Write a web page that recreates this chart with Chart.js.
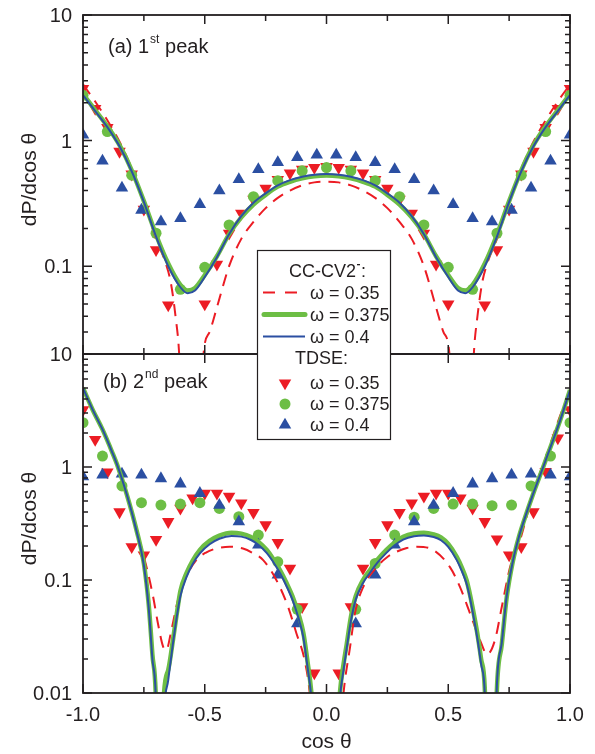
<!DOCTYPE html>
<html>
<head>
<meta charset="utf-8">
<title>dP/dcos theta - 1st and 2nd peak</title>
<script src="https://cdn.jsdelivr.net/npm/chart.js@4.4.1/dist/chart.umd.min.js"></script>
<style>
    html, body { margin: 0; padding: 0; background: #fff; }
    #wrap { position: relative; width: 595px; height: 754px; }
    #wrap canvas { position: absolute; left: 0; top: 0; }
</style>
</head>
<body>
<div id="wrap">
    <canvas id="chartA" width="595" height="754"></canvas>
    <canvas id="chartB" width="595" height="754"></canvas>
</div>
<script>
const INK = '#231F20';
const RED = '#EC1C24';
const GREEN = '#6DBE45';
const BLUE = '#2B4FA2';
const FONT = '"Liberation Sans", Arial, Helvetica, sans-serif';

// axes
const xTickValues = [-1, -0.5, 0, 0.5, 1];
const xTickLabels = ['-1.0', '-0.5', '0.0', '0.5', '1.0'];
const xMinorTicks = [-0.75, -0.25, 0.25, 0.75];
const yTicksA = [0.1, 1, 10];
const yLabelsA = ['0.1', '1', '10'];
const yTicksB = [0.01, 0.1, 1, 10];
const yLabelsB = ['0.01', '0.1', '1', '10'];

// ---- panel (a) 1st peak ----
// CC-CV2 curves, omega = 0.375 / 0.4
const aLineX = [-1, -0.95, -0.9, -0.85, -0.8, -0.75, -0.7, -0.65, -0.6, -0.57, -0.54, -0.5, -0.45, -0.4, -0.35, -0.3, -0.25, -0.2, -0.15, -0.1, -0.05, 0,
    0.05, 0.1, 0.15, 0.2, 0.25, 0.3, 0.35, 0.4, 0.45, 0.5, 0.54, 0.57, 0.6, 0.65, 0.7, 0.75, 0.8, 0.85, 0.9, 0.95, 1];
const aLine0375 = [2.35, 1.75, 1.3, 0.92, 0.58, 0.33, 0.178, 0.105, 0.071, 0.064, 0.067, 0.085, 0.12, 0.18, 0.245, 0.31, 0.37, 0.43, 0.47, 0.5, 0.52, 0.527,
    0.52, 0.5, 0.47, 0.43, 0.37, 0.31, 0.245, 0.18, 0.12, 0.085, 0.067, 0.064, 0.071, 0.105, 0.178, 0.33, 0.58, 0.92, 1.3, 1.75, 2.35];
const aLine04 = [2.3, 1.72, 1.28, 0.9, 0.57, 0.325, 0.172, 0.1, 0.068, 0.061, 0.064, 0.082, 0.118, 0.18, 0.25, 0.32, 0.38, 0.44, 0.485, 0.515, 0.535, 0.542,
    0.535, 0.515, 0.485, 0.44, 0.38, 0.32, 0.25, 0.18, 0.118, 0.082, 0.064, 0.061, 0.068, 0.1, 0.172, 0.325, 0.57, 0.9, 1.28, 1.72, 2.3];
// CC-CV2 curve, omega = 0.35 (dashed)
const aDashX = [-1, -0.95, -0.9, -0.85, -0.8, -0.75, -0.7, -0.66, -0.64, -0.62, -0.605, -0.555, -0.505, -0.48, -0.45, -0.4, -0.35, -0.3, -0.25, -0.2, -0.15, -0.1, -0.05, 0,
    0.05, 0.1, 0.15, 0.2, 0.25, 0.3, 0.35, 0.4, 0.45, 0.48, 0.505, 0.555, 0.605, 0.62, 0.64, 0.66, 0.7, 0.75, 0.8, 0.85, 0.9, 0.95, 1];
const aDash035 = [2.8, 2.05, 1.45, 0.98, 0.6, 0.33, 0.165, 0.105, 0.075, 0.04, 0.02, 0.0001, 0.02, 0.03, 0.047, 0.1, 0.165, 0.225, 0.29, 0.35, 0.4, 0.44, 0.465, 0.47,
    0.465, 0.44, 0.4, 0.35, 0.29, 0.225, 0.165, 0.1, 0.047, 0.03, 0.02, 0.0001, 0.02, 0.04, 0.075, 0.105, 0.165, 0.33, 0.6, 0.98, 1.45, 2.05, 2.8];
// TDSE points
const aRedX = [-1, -0.95, -0.9, -0.85, -0.8, -0.75, -0.7, -0.65, -0.5, -0.45, -0.4, -0.35, -0.3, -0.25, -0.2, -0.15, -0.1, -0.05, 0,
    0.05, 0.1, 0.15, 0.2, 0.25, 0.3, 0.35, 0.4, 0.45, 0.5, 0.65, 0.7, 0.75, 0.8, 0.85, 0.9, 0.95, 1];
const aRed = [2.6, 1.8, 1.27, 0.82, 0.54, 0.284, 0.135, 0.049, 0.05, 0.1035, 0.183, 0.264, 0.34, 0.417, 0.49, 0.55, 0.59, 0.61, 0.62,
    0.61, 0.59, 0.55, 0.49, 0.417, 0.34, 0.264, 0.183, 0.1035, 0.05, 0.049, 0.135, 0.284, 0.54, 0.82, 1.27, 1.8, 2.6];
const aGreenX = [-1, -0.9, -0.8, -0.7, -0.6, -0.5, -0.4, -0.3, -0.2, -0.1, 0, 0.1, 0.2, 0.3, 0.4, 0.5, 0.6, 0.7, 0.8, 0.9, 1];
const aGreen = [2.3, 1.18, 0.53, 0.183, 0.0655, 0.098, 0.213, 0.358, 0.48, 0.575, 0.61, 0.575, 0.48, 0.358, 0.213, 0.098, 0.0655, 0.183, 0.53, 1.18, 2.3];
const aBlueX = [-1, -0.92, -0.84, -0.76, -0.68, -0.6, -0.52, -0.44, -0.36, -0.28, -0.2, -0.12, -0.04,
    0.04, 0.12, 0.2, 0.28, 0.36, 0.44, 0.52, 0.6, 0.68, 0.76, 0.84, 0.92, 1];
const aBlue = [1.11, 0.69, 0.42, 0.28, 0.226, 0.24, 0.31, 0.4, 0.49, 0.59, 0.67, 0.735, 0.77,
    0.77, 0.735, 0.67, 0.59, 0.49, 0.4, 0.31, 0.24, 0.226, 0.28, 0.42, 0.69, 1.11];

// ---- panel (b) 2nd peak ----
const bLineX = [-1, -0.96, -0.92, -0.88, -0.86, -0.82, -0.78, -0.75, -0.73, -0.715, -0.7, -0.685, -0.67, -0.65, -0.63, -0.615, -0.6, -0.575, -0.55, -0.52,
    -0.48, -0.44, -0.39, -0.35, -0.31, -0.28, -0.245, -0.22, -0.19, -0.165, -0.14, -0.115, -0.095, -0.078, -0.062, 0,
    0.055, 0.07, 0.083, 0.1, 0.12, 0.15, 0.18, 0.21, 0.245, 0.28, 0.315, 0.36, 0.4, 0.44, 0.47, 0.5, 0.535, 0.555, 0.575, 0.59,
    0.605, 0.62, 0.635, 0.65, 0.675, 0.7, 0.72, 0.74, 0.765, 0.79, 0.81, 0.85, 0.89, 0.93, 0.96, 1];
const bLine0375 = [5.0, 3.2, 2.15, 1.35, 1.05, 0.57, 0.275, 0.14, 0.06, 0.022, 0.008, 0.0001, 0.008, 0.016, 0.03, 0.05, 0.08, 0.115, 0.148, 0.185,
    0.222, 0.247, 0.262, 0.257, 0.24, 0.218, 0.184, 0.155, 0.121, 0.095, 0.072, 0.05, 0.034, 0.019, 0.01, 0.0001,
    0.01, 0.018, 0.027, 0.047, 0.072, 0.1, 0.124, 0.152, 0.184, 0.215, 0.241, 0.258, 0.262, 0.253, 0.238, 0.208, 0.16, 0.13, 0.1, 0.073,
    0.05, 0.033, 0.02, 0.011, 0.0001, 0.011, 0.027, 0.07, 0.145, 0.24, 0.33, 0.59, 1.0, 1.72, 2.6, 4.8];
const bLine04 = [5.0, 3.2, 2.15, 1.35, 1.05, 0.57, 0.27, 0.135, 0.056, 0.02, 0.008, 0.0001, 0.005, 0.013, 0.028, 0.047, 0.072, 0.106, 0.138, 0.172,
    0.207, 0.232, 0.245, 0.242, 0.226, 0.205, 0.173, 0.146, 0.114, 0.089, 0.067, 0.046, 0.031, 0.017, 0.009, 0.0001,
    0.009, 0.016, 0.025, 0.043, 0.067, 0.094, 0.117, 0.143, 0.173, 0.203, 0.228, 0.244, 0.248, 0.24, 0.225, 0.196, 0.15, 0.121, 0.093, 0.068,
    0.046, 0.03, 0.018, 0.01, 0.0001, 0.012, 0.028, 0.072, 0.145, 0.24, 0.33, 0.59, 1.0, 1.72, 2.6, 4.8];
const bDashX = [-1, -0.95, -0.9, -0.863, -0.822, -0.79, -0.761, -0.733, -0.712, -0.692, -0.671, -0.658, -0.637, -0.61, -0.576, -0.535, -0.495, -0.453,
    -0.398, -0.343, -0.3, -0.26, -0.206, -0.158, -0.124, -0.09, -0.069, 0,
    0.07, 0.097, 0.117, 0.151, 0.206, 0.25, 0.288, 0.33, 0.37, 0.439, 0.507, 0.548, 0.589, 0.63, 0.66, 0.692, 0.72, 0.754, 0.795, 0.83, 0.87, 0.9, 0.95, 1];
const bDash035 = [4.9, 2.9, 1.75, 1.1, 0.6, 0.33, 0.197, 0.115, 0.071, 0.041, 0.0257, 0.024, 0.036, 0.0665, 0.107, 0.15, 0.175, 0.19,
    0.197, 0.19, 0.172, 0.15, 0.1, 0.058, 0.034, 0.0196, 0.01, 0.0001,
    0.01, 0.0257, 0.051, 0.087, 0.13, 0.16, 0.178, 0.192, 0.197, 0.184, 0.13, 0.087, 0.051, 0.0295, 0.022, 0.0295, 0.058, 0.13, 0.226, 0.42, 0.8, 1.2, 2.5, 4.7];
const bRedX = [-1, -0.95, -0.9, -0.85, -0.8, -0.75, -0.7, -0.65, -0.6, -0.55, -0.5, -0.45, -0.4, -0.35, -0.3, -0.25, -0.2, -0.15, -0.1, -0.05,
    0.05, 0.1, 0.15, 0.2, 0.25, 0.3, 0.35, 0.4, 0.45, 0.5, 0.55, 0.6, 0.65, 0.7, 0.75, 0.8, 0.85, 0.9, 0.95, 1];
const bRed = [3.2, 1.75, 0.9, 0.4, 0.197, 0.166, 0.228, 0.328, 0.43, 0.53, 0.585, 0.585, 0.55, 0.48, 0.395, 0.307, 0.214, 0.127, 0.058, 0.015,
    0.015, 0.058, 0.127, 0.214, 0.307, 0.395, 0.48, 0.55, 0.585, 0.585, 0.53, 0.43, 0.328, 0.23, 0.166, 0.197, 0.4, 0.91, 1.8, 3.2];
const bMarkX = [-1, -0.92, -0.84, -0.76, -0.68, -0.6, -0.52, -0.44, -0.36, -0.28, -0.2, -0.12,
    0.12, 0.2, 0.28, 0.36, 0.44, 0.52, 0.6, 0.68, 0.76, 0.84, 0.92, 1];
const bGreen = [2.47, 1.25, 0.68, 0.483, 0.46, 0.47, 0.483, 0.43, 0.363, 0.25, 0.145, 0.055,
    0.055, 0.14, 0.25, 0.36, 0.43, 0.47, 0.47, 0.455, 0.46, 0.68, 1.25, 2.47];
const bBlue = [0.82, 0.85, 0.87, 0.85, 0.79, 0.71, 0.585, 0.46, 0.328, 0.204, 0.111, 0.041,
    0.041, 0.111, 0.204, 0.328, 0.46, 0.585, 0.71, 0.79, 0.85, 0.87, 0.85, 0.82];

function pts(xs, ys) {
    return xs.map((x, i) => ({ x: x, y: ys[i] }));
}

function lineSet(xs, ys, color, width, dash, order) {
    return {
        data: pts(xs, ys),
        borderColor: color,
        borderWidth: width,
        borderDash: dash,
        pointRadius: 0,
        fill: false,
        cubicInterpolationMode: 'monotone',
        clip: 0,
        order: order
    };
}

function markerSet(xs, ys, color, style, rotation, radius, order) {
    return {
        data: pts(xs, ys),
        showLine: false,
        pointStyle: style,
        pointRotation: rotation,
        pointRadius: radius,
        pointBackgroundColor: color,
        pointBorderWidth: 0,
        clip: 0,
        order: order
    };
}

function drawTriangle(ctx, cx, cy, s, down) {
    const d = down ? -1 : 1;
    ctx.beginPath();
    ctx.moveTo(cx, cy - d * s);
    ctx.lineTo(cx + s * 0.866, cy + d * s * 0.5);
    ctx.lineTo(cx - s * 0.866, cy + d * s * 0.5);
    ctx.closePath();
    ctx.fill();
}

function drawPanelLabel(ctx, x, y, prefix, sup, rest) {
    ctx.font = `20px ${FONT}`;
    ctx.textAlign = 'left';
    ctx.fillText(prefix, x, y);
    let cx = x + ctx.measureText(prefix).width + 1;
    ctx.font = `12px ${FONT}`;
    ctx.fillText(sup, cx, y - 10);
    cx += ctx.measureText(sup).width;
    ctx.font = `20px ${FONT}`;
    ctx.fillText(rest, cx, y);
}

function drawLegend(ctx) {
    ctx.save();
    ctx.fillStyle = '#fff';
    ctx.fillRect(257.5, 250.5, 133, 189);
    ctx.strokeStyle = INK;
    ctx.lineWidth = 1.2;
    ctx.strokeRect(257.5, 250.5, 133, 189);

    ctx.fillStyle = INK;
    ctx.font = `18px ${FONT}`;
    ctx.textAlign = 'left';
    ctx.fillText('CC-CV2', 289, 277);
    const w = ctx.measureText('CC-CV2').width;
    ctx.fillRect(289 + w + 1, 264, 3, 1.3);
    ctx.fillText(':', 289 + w + 5, 277);
    ctx.fillText('TDSE:', 295, 364);

    const rows = ['\u03c9 = 0.35', '\u03c9 = 0.375', '\u03c9 = 0.4'];
    const lineY = [292.5, 314.5, 336.5];
    const markY = [383, 404, 425];
    rows.forEach((t, i) => {
        ctx.fillText(t, 310, lineY[i] + 6);
        ctx.fillText(t, 310, markY[i] + 6);
    });

    ctx.lineCap = 'butt';
    ctx.strokeStyle = RED;
    ctx.lineWidth = 2;
    ctx.setLineDash([12, 10]);
    ctx.beginPath(); ctx.moveTo(263, lineY[0]); ctx.lineTo(297, lineY[0]); ctx.stroke();
    ctx.setLineDash([]);
    ctx.strokeStyle = GREEN;
    ctx.lineWidth = 5;
    ctx.lineCap = 'round';
    ctx.beginPath(); ctx.moveTo(264, lineY[1]); ctx.lineTo(305, lineY[1]); ctx.stroke();
    ctx.strokeStyle = BLUE;
    ctx.lineWidth = 2;
    ctx.lineCap = 'butt';
    ctx.beginPath(); ctx.moveTo(263, lineY[2]); ctx.lineTo(305, lineY[2]); ctx.stroke();

    ctx.fillStyle = RED;
    drawTriangle(ctx, 285, markY[0], 7.2, true);
    ctx.fillStyle = GREEN;
    ctx.beginPath(); ctx.arc(285, markY[1], 5.5, 0, Math.PI * 2); ctx.fill();
    ctx.fillStyle = BLUE;
    drawTriangle(ctx, 285, markY[2], 7.2, false);
    ctx.restore();
}

function framePlugin(yTicks, yLabels, label, isBottom) {
    return {
        id: 'panelFrame',
        afterDraw(chart) {
            const ctx = chart.ctx;
            const a = chart.chartArea;
            const xs = chart.scales.x;
            const ys = chart.scales.y;
            ctx.save();
            ctx.strokeStyle = INK;
            ctx.lineWidth = 1.5;
            ctx.beginPath();
            xTickValues.forEach(v => {
                const px = xs.getPixelForValue(v);
                ctx.moveTo(px, a.top); ctx.lineTo(px, a.top + 9);
                ctx.moveTo(px, a.bottom); ctx.lineTo(px, a.bottom - 9);
            });
            xMinorTicks.forEach(v => {
                const px = xs.getPixelForValue(v);
                ctx.moveTo(px, a.top); ctx.lineTo(px, a.top + 6);
                ctx.moveTo(px, a.bottom); ctx.lineTo(px, a.bottom - 6);
            });
            for (let e = -3; e <= 1; e++) {
                for (let m = 1; m <= 9; m++) {
                    const v = m * Math.pow(10, e);
                    if (v < ys.min * 0.999 || v > ys.max * 1.001) continue;
                    const py = ys.getPixelForValue(v);
                    const len = m === 1 ? 9 : 5;
                    ctx.moveTo(a.left, py); ctx.lineTo(a.left + len, py);
                    ctx.moveTo(a.right, py); ctx.lineTo(a.right - len, py);
                }
            }
            ctx.stroke();
            ctx.lineWidth = 1.8;
            ctx.strokeRect(a.left, a.top, a.right - a.left, a.bottom - a.top);

            ctx.fillStyle = INK;
            ctx.font = `20px ${FONT}`;
            ctx.textAlign = 'right';
            yTicks.forEach((v, i) => {
                ctx.fillText(yLabels[i], 72, ys.getPixelForValue(v) + 7);
            });

            if (isBottom) {
                ctx.textAlign = 'center';
                xTickValues.forEach((v, i) => {
                    ctx.fillText(xTickLabels[i], xs.getPixelForValue(v), 721);
                });
                ctx.font = `21px ${FONT}`;
                ctx.fillText('cos \u03b8', (a.left + a.right) / 2, 748);
            }

            ctx.save();
            ctx.translate(35.5, (a.top + a.bottom) / 2 - 5);
            ctx.rotate(-Math.PI / 2);
            ctx.textAlign = 'center';
            ctx.font = `21px ${FONT}`;
            ctx.fillText('dP/dcos \u03b8', 0, 0);
            ctx.restore();

            drawPanelLabel(ctx, label.x, label.y, label.prefix, label.sup, label.rest);
            ctx.restore();

            if (isBottom) drawLegend(ctx);
        }
    };
}

function makePanel(canvasId, padTop, padBottom, yMin, datasets, plugin) {
    return new Chart(document.getElementById(canvasId), {
        type: 'line',
        data: { datasets: datasets },
        options: {
            responsive: false,
            animation: false,
            events: [],
            layout: { padding: { left: 83, right: 25, top: padTop, bottom: padBottom } },
            scales: {
                x: { type: 'linear', min: -1, max: 1, display: false },
                y: { type: 'logarithmic', min: yMin, max: 10, display: false }
            },
            plugins: { legend: { display: false }, tooltip: { enabled: false } }
        },
        plugins: [plugin]
    });
}

makePanel('chartA', 15, 400, 0.02, [
    lineSet(aLineX, aLine04, BLUE, 2, [], 0),
    lineSet(aLineX, aLine0375, GREEN, 4.5, [], 1),
    lineSet(aDashX, aDash035, RED, 2, [12, 8], 2),
    markerSet(aBlueX, aBlue, BLUE, 'triangle', 0, 7.2, 3),
    markerSet(aGreenX, aGreen, GREEN, 'circle', 0, 5.5, 4),
    markerSet(aRedX, aRed, RED, 'triangle', 180, 7.2, 5)
], framePlugin(yTicksA, yLabelsA, { x: 108, y: 53, prefix: '(a) 1', sup: 'st', rest: ' peak' }, false));

makePanel('chartB', 354, 61, 0.01, [
    lineSet(bLineX, bLine04, BLUE, 2, [], 0),
    lineSet(bLineX, bLine0375, GREEN, 4.5, [], 1),
    lineSet(bDashX, bDash035, RED, 2, [12, 8], 2),
    markerSet(bMarkX, bBlue, BLUE, 'triangle', 0, 7.2, 3),
    markerSet(bMarkX, bGreen, GREEN, 'circle', 0, 5.5, 4),
    markerSet(bRedX, bRed, RED, 'triangle', 180, 7.2, 5)
], framePlugin(yTicksB, yLabelsB, { x: 103, y: 388, prefix: '(b) 2', sup: 'nd', rest: ' peak' }, true));
</script>
</body>
</html>
